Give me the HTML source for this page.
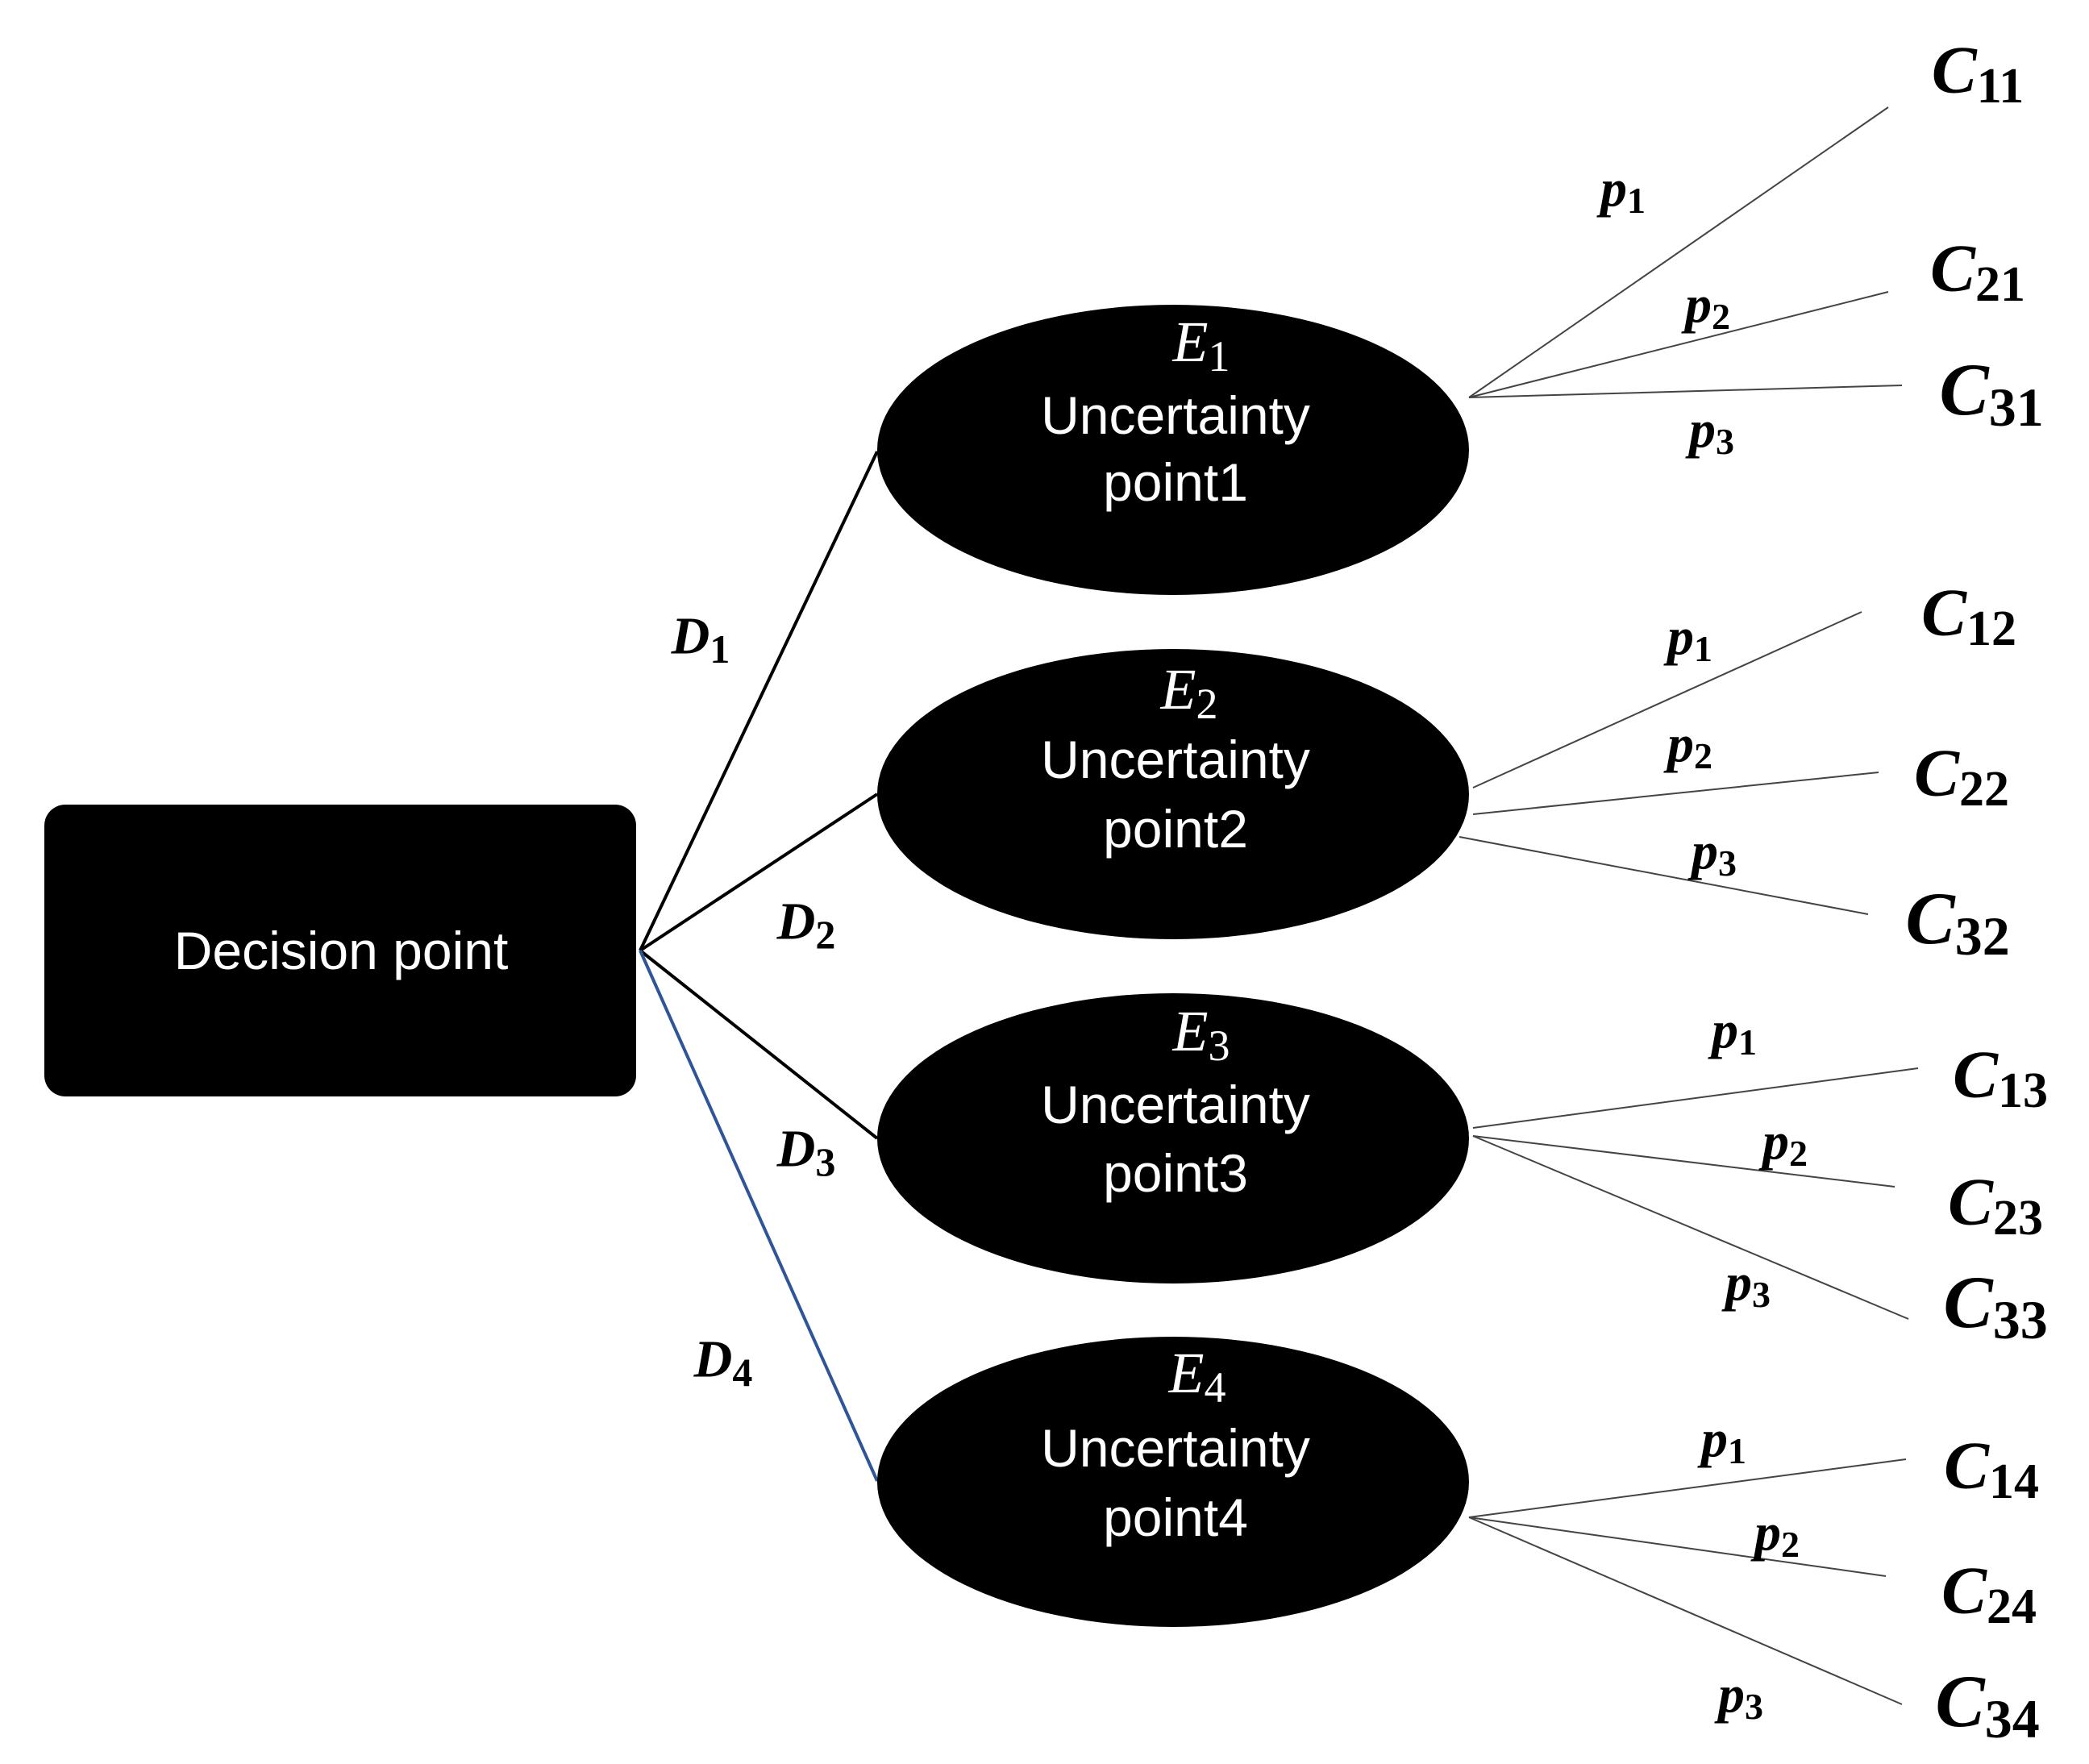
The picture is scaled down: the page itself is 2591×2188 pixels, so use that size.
<!DOCTYPE html>
<html><head><meta charset="utf-8"><style>
html,body{margin:0;padding:0;background:#fff;}
svg{display:block;}
.m{font-family:"Liberation Serif",serif;font-style:italic;fill:#000;}
.b{font-weight:bold;}
.w{font-family:"Liberation Sans",sans-serif;fill:#fff;font-size:66px;}
</style></head><body>
<svg width="2591" height="2188" viewBox="0 0 2591 2188" xmlns="http://www.w3.org/2000/svg">
<rect x="55" y="998" width="734" height="362" rx="26" fill="#000"/>
<text class="w" x="423" y="1179" text-anchor="middle" dominant-baseline="central">Decision point</text>

<g stroke="#000" stroke-width="4">
<line x1="794" y1="1179" x2="1088" y2="560"/>
<line x1="794" y1="1179" x2="1088" y2="985"/>
<line x1="794" y1="1179" x2="1088" y2="1412"/>
</g>
<line x1="794" y1="1179" x2="1088" y2="1837" stroke="#2f5597" stroke-width="4"/>

<g fill="#000">
<ellipse cx="1455" cy="558" rx="367" ry="180"/>
<ellipse cx="1455" cy="985" rx="367" ry="180"/>
<ellipse cx="1455" cy="1412" rx="367" ry="180"/>
<ellipse cx="1455" cy="1838" rx="367" ry="180"/>
</g>

<g class="w" text-anchor="middle" dominant-baseline="central">
<text x="1458" y="515">Uncertainty</text><text x="1458" y="598">point1</text>
<text x="1458" y="942">Uncertainty</text><text x="1458" y="1028">point2</text>
<text x="1458" y="1370">Uncertainty</text><text x="1458" y="1455">point3</text>
<text x="1458" y="1796">Uncertainty</text><text x="1458" y="1882">point4</text>
</g>
<g class="m" font-size="72" text-anchor="middle" dominant-baseline="central">
<text x="1490" y="424" fill="#fff">E<tspan font-size="54" dy="18" font-style="normal">1</tspan></text>
<text x="1475" y="855" fill="#fff">E<tspan font-size="54" dy="18" font-style="normal">2</tspan></text>
<text x="1490" y="1279" fill="#fff">E<tspan font-size="54" dy="18" font-style="normal">3</tspan></text>
<text x="1485" y="1703" fill="#fff">E<tspan font-size="54" dy="18" font-style="normal">4</tspan></text>
</g>

<g class="m b" font-size="66" text-anchor="middle" dominant-baseline="central">
<text x="869" y="789">D<tspan font-size="50" dy="16" font-style="normal">1</tspan></text>
<text x="1000" y="1143">D<tspan font-size="50" dy="16" font-style="normal">2</tspan></text>
<text x="1000" y="1425">D<tspan font-size="50" dy="16" font-style="normal">3</tspan></text>
<text x="897" y="1686">D<tspan font-size="50" dy="16" font-style="normal">4</tspan></text>
</g>

<g stroke="#444" stroke-width="2">
<line x1="1822" y1="493" x2="2342" y2="133"/>
<line x1="1822" y1="493" x2="2342" y2="362"/>
<line x1="1822" y1="493" x2="2359" y2="478"/>
<line x1="1827" y1="977" x2="2309" y2="759"/>
<line x1="1827" y1="1010" x2="2330" y2="958"/>
<line x1="1810" y1="1038" x2="2317" y2="1134"/>
<line x1="1827" y1="1399" x2="2379" y2="1325"/>
<line x1="1827" y1="1409" x2="2350" y2="1472"/>
<line x1="1827" y1="1409" x2="2367" y2="1636"/>
<line x1="1822" y1="1882" x2="2364" y2="1810"/>
<line x1="1822" y1="1882" x2="2339" y2="1955"/>
<line x1="1822" y1="1882" x2="2359" y2="2114"/>
</g>

<g class="m b" font-size="66" text-anchor="middle" dominant-baseline="central">
<text x="2013" y="234">p<tspan font-size="46" dy="14" font-style="normal">1</tspan></text>
<text x="2118" y="378">p<tspan font-size="46" dy="14" font-style="normal">2</tspan></text>
<text x="2123" y="533">p<tspan font-size="46" dy="14" font-style="normal">3</tspan></text>
<text x="2096" y="790">p<tspan font-size="46" dy="14" font-style="normal">1</tspan></text>
<text x="2096" y="923">p<tspan font-size="46" dy="14" font-style="normal">2</tspan></text>
<text x="2126" y="1056">p<tspan font-size="46" dy="14" font-style="normal">3</tspan></text>
<text x="2151" y="1278">p<tspan font-size="46" dy="14" font-style="normal">1</tspan></text>
<text x="2214" y="1416">p<tspan font-size="46" dy="14" font-style="normal">2</tspan></text>
<text x="2168" y="1591">p<tspan font-size="46" dy="14" font-style="normal">3</tspan></text>
<text x="2138" y="1785">p<tspan font-size="46" dy="14" font-style="normal">1</tspan></text>
<text x="2204" y="1901">p<tspan font-size="46" dy="14" font-style="normal">2</tspan></text>
<text x="2159" y="2102">p<tspan font-size="46" dy="14" font-style="normal">3</tspan></text>
</g>

<g class="m b" font-size="84" text-anchor="middle" dominant-baseline="central">
<text x="2453" y="87">C<tspan font-size="62" dy="20" font-style="normal">11</tspan></text>
<text x="2453" y="333">C<tspan font-size="62" dy="20" font-style="normal">21</tspan></text>
<text x="2470" y="483" font-size="92">C<tspan font-size="68" dy="22" font-style="normal">31</tspan></text>
<text x="2442" y="760">C<tspan font-size="62" dy="20" font-style="normal">12</tspan></text>
<text x="2433" y="959">C<tspan font-size="62" dy="20" font-style="normal">22</tspan></text>
<text x="2428" y="1139" font-size="92">C<tspan font-size="68" dy="22" font-style="normal">32</tspan></text>
<text x="2481" y="1333">C<tspan font-size="62" dy="20" font-style="normal">13</tspan></text>
<text x="2475" y="1491">C<tspan font-size="62" dy="20" font-style="normal">23</tspan></text>
<text x="2475" y="1615" font-size="92">C<tspan font-size="68" dy="22" font-style="normal">33</tspan></text>
<text x="2470" y="1818">C<tspan font-size="62" dy="20" font-style="normal">14</tspan></text>
<text x="2467" y="1973">C<tspan font-size="62" dy="20" font-style="normal">24</tspan></text>
<text x="2465" y="2110" font-size="92">C<tspan font-size="68" dy="22" font-style="normal">34</tspan></text>
</g>
</svg>
</body></html>
